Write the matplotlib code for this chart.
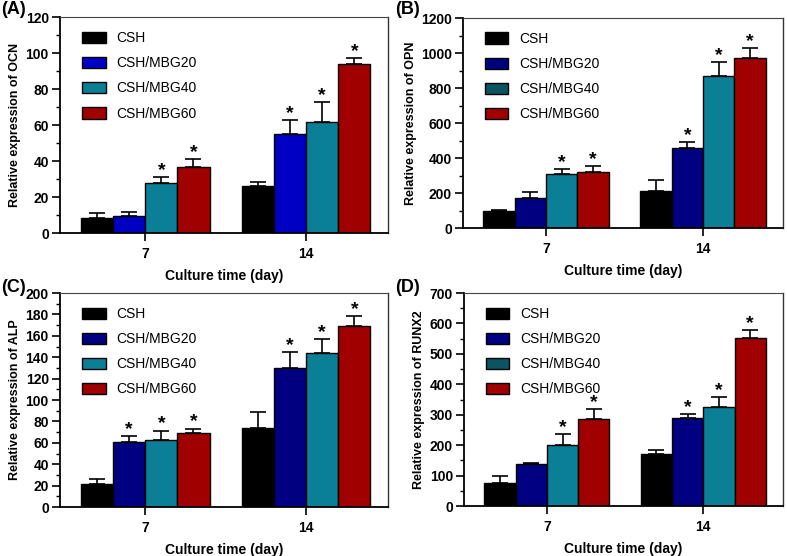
import matplotlib.pyplot as plt
import numpy as np
from matplotlib.patches import Patch
from matplotlib.ticker import MultipleLocator

plt.rcParams["font.family"] = ["Liberation Sans", "DejaVu Sans"]

groups = ["CSH", "CSH/MBG20", "CSH/MBG40", "CSH/MBG60"]
days = ["7", "14"]

# mean values, rows = group, cols = day (7, 14)
ocn = [[8.3, 25.9], [9.6, 54.8], [27.6, 61.5], [36.9, 93.7]]
ocn_err = [[2.8, 2.2], [1.9, 7.8], [3.7, 11.1], [4.2, 3.3]]
opn = [[95, 211], [170, 455], [307, 870], [318, 970]]
opn_err = [[8, 61], [34, 38], [28, 80], [38, 60]]
alp = [[21.5, 73.6], [61.2, 129.8], [62.4, 144.1], [69.6, 169.1]]
alp_err = [[4.7, 15.3], [5.3, 15.2], [9.1, 12.5], [3.7, 9.4]]
runx2 = [[75.7, 170], [138, 290], [202, 324], [286, 552]]
runx2_err = [[23, 13], [4.6, 12], [35, 33], [32, 25]]

# which bars carry a significance star
stars_ocn = [[0, 0], [0, 1], [1, 1], [1, 1]]
stars_opn = [[0, 0], [0, 1], [1, 1], [1, 1]]
stars_alp = [[0, 0], [1, 1], [1, 1], [1, 1]]
stars_runx2 = [[0, 0], [0, 1], [1, 1], [1, 1]]

teal = "#0a7f96"
red = "#a00000"
panels = [
    ("(A)", "OCN", ocn, ocn_err, stars_ocn, 120, 20, 10,
     ["black", "#0000c4", teal, red], teal,
     [0.0762, 0.5809, 0.417, 0.3885], (0.002, 0.998)),
    ("(B)", "OPN", opn, opn_err, stars_opn, 1200, 200, 100,
     ["black", "#000080", teal, red], "#0b5563",
     [0.5883, 0.5899, 0.4066, 0.3777], (0.502, 0.998)),
    ("(C)", "ALP", alp, alp_err, stars_alp, 200, 20, 10,
     ["black", "#000080", teal, red], teal,
     [0.0762, 0.0881, 0.417, 0.3849], (0.002, 0.498)),
    ("(D)", "RUNX2", runx2, runx2_err, stars_runx2, 700, 100, 50,
     ["black", "#000080", teal, red], "#0b5563",
     [0.5896, 0.0899, 0.4053, 0.3831], (0.502, 0.498)),
]

fig = plt.figure(figsize=(7.87, 5.56), dpi=100)
width = 0.2
x = np.arange(len(days))

for tag, gene, vals, errs, stars, ymax, major, minor, colors, leg40, pos, tagpos in panels:
    ax = fig.add_axes(pos)
    for i, g in enumerate(groups):
        xs = x + (i - 1.5) * width
        ax.bar(xs, vals[i], width, color=colors[i], edgecolor="black",
               linewidth=1.0, zorder=2)
        ax.errorbar(xs, vals[i], yerr=[np.zeros(len(days)), errs[i]],
                    fmt="none", ecolor="black", elinewidth=1.2,
                    capsize=6, capthick=1.2, zorder=1)
        for j in range(len(days)):
            if stars[i][j]:
                ax.annotate("*", (xs[j], vals[i][j] + errs[i][j]),
                            xytext=(0, 1.5), textcoords="offset points",
                            ha="center", va="baseline", fontsize=14,
                            fontweight="bold")

    ax.set_xlim(-0.53, 1.51)
    ax.set_ylim(0, ymax)
    ax.set_xticks(x)
    ax.set_xticklabels(days, fontsize=10, fontweight="bold")
    ax.yaxis.set_major_locator(MultipleLocator(major))
    ax.yaxis.set_minor_locator(MultipleLocator(minor))
    for lab in ax.get_yticklabels():
        lab.set_fontweight("bold")
        lab.set_fontsize(10)
    ax.tick_params(axis="y", which="major", direction="out", length=6, width=1.2, pad=2)
    ax.tick_params(axis="y", which="minor", direction="out", length=3, width=1.0)
    ax.tick_params(axis="x", direction="out", length=6, width=1.2, pad=4)
    ax.spines["left"].set_linewidth(1.3)
    ax.spines["bottom"].set_linewidth(1.3)
    ax.spines["top"].set_linewidth(0.8)
    ax.spines["top"].set_color("#444444")
    ax.spines["right"].set_linewidth(1.0)
    ax.spines["right"].set_color("#333333")
    ax.set_xlabel("Culture time (day)", fontsize=10, fontweight="bold", labelpad=6)
    ax.set_ylabel(f"Relative expression of {gene}", fontsize=9, fontweight="bold", labelpad=3)

    handles = []
    for i, g in enumerate(groups):
        c = leg40 if i == 2 else colors[i]
        handles.append(Patch(facecolor=c, edgecolor="black", linewidth=1.0, label=g))
    ax.legend(handles=handles, loc="upper left", bbox_to_anchor=(0.05, 0.96),
              frameon=False, fontsize=10, handlelength=1.7, handleheight=0.9,
              handletextpad=0.8, labelspacing=0.8, borderaxespad=0)

    fig.text(tagpos[0], tagpos[1], tag, ha="left", va="top",
             fontsize=13, fontweight="bold")

fig.savefig("out.png", dpi=100)
